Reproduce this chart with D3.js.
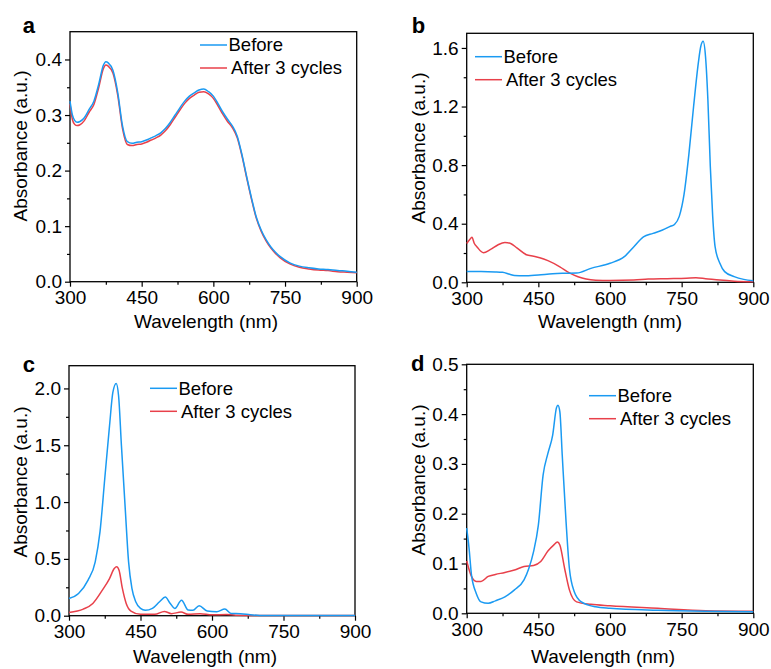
<!DOCTYPE html>
<html>
<head>
<meta charset="utf-8">
<script src="https://cdn.jsdelivr.net/npm/d3@7"></script>
<style>
  body { margin: 0; background: #fff; }
  svg { font-family: Arial, "Liberation Sans", sans-serif; }
</style>
</head>
<body>
<script>
// ---- data ----
const aWl = [300,305,310,315,320,330,340,350,360,370,375,380,390,400,410,420,430,440,450,460,470,480,490,500,510,520,530,540,550,560,570,580,590,600,610,620,630,640,650,660,670,680,690,700,710,720,730,740,760,780,800,820,840,860,880,900];
const aBefore = [0.325,0.300,0.290,0.287,0.288,0.295,0.310,0.325,0.355,0.390,0.396,0.394,0.380,0.340,0.280,0.252,0.249,0.251,0.252,0.255,0.259,0.263,0.268,0.276,0.287,0.300,0.313,0.325,0.334,0.340,0.345,0.347,0.342,0.334,0.320,0.305,0.292,0.280,0.262,0.228,0.188,0.150,0.116,0.093,0.076,0.063,0.053,0.045,0.034,0.028,0.025,0.023,0.022,0.020,0.019,0.017];
const aAfter = [0.320,0.292,0.283,0.281,0.282,0.290,0.305,0.319,0.349,0.384,0.390,0.388,0.375,0.335,0.275,0.247,0.245,0.247,0.248,0.251,0.255,0.259,0.264,0.272,0.283,0.296,0.309,0.321,0.330,0.336,0.341,0.342,0.338,0.330,0.316,0.301,0.288,0.277,0.259,0.226,0.186,0.148,0.114,0.091,0.074,0.061,0.051,0.043,0.032,0.026,0.023,0.021,0.020,0.018,0.017,0.016];

const bBeforeWl = [300,330,360,375,390,400,420,450,480,500,530,560,600,630,650,670,690,710,725,735,745,755,765,775,785,790,795,800,805,810,815,820,830,840,860,880,900];
const bBefore = [0.073,0.073,0.071,0.068,0.055,0.047,0.044,0.050,0.058,0.061,0.063,0.095,0.130,0.175,0.243,0.310,0.334,0.357,0.380,0.395,0.450,0.600,0.870,1.200,1.500,1.610,1.645,1.540,1.240,0.790,0.450,0.243,0.130,0.073,0.039,0.020,0.011];
const bAfterWl = [300,306,311,316,322,335,350,365,380,392,405,425,440,453,470,495,515,533,550,570,600,650,680,720,760,780,800,830,860,900];
const bAfter = [0.265,0.290,0.307,0.265,0.240,0.202,0.225,0.255,0.272,0.265,0.235,0.188,0.178,0.168,0.148,0.106,0.064,0.038,0.022,0.014,0.012,0.015,0.022,0.025,0.028,0.031,0.025,0.015,0.008,0.003];

const cBeforeWl = [300,320,340,355,365,375,385,392,399,404,410,418,425,432,440,450,460,475,490,502,512,522,536,550,560,573,590,610,627,640,660,680,700,800,900];
const cBefore = [0.152,0.196,0.313,0.474,0.737,1.205,1.670,1.965,2.044,1.936,1.497,0.940,0.474,0.240,0.123,0.064,0.047,0.064,0.123,0.164,0.110,0.064,0.137,0.050,0.047,0.088,0.041,0.035,0.058,0.020,0.018,0.009,0.002,0.001,0.001];
const cAfterWl = [300,330,350,370,385,395,400,405,412,420,430,450,480,500,515,535,550,575,600,630,650,700,900];
const cAfter = [0.029,0.058,0.108,0.225,0.327,0.415,0.430,0.400,0.240,0.108,0.041,0.012,0.012,0.038,0.018,0.032,0.012,0.018,0.008,0.010,0.005,0.002,0.001];

const dBeforeWl = [300,305,310,320,330,345,360,380,400,420,430,440,450,460,470,480,488,491,495,500,508,515,525,540,570,600,700,800,900];
const dBefore = [0.171,0.130,0.077,0.040,0.023,0.020,0.025,0.033,0.047,0.067,0.090,0.124,0.177,0.278,0.321,0.358,0.413,0.418,0.405,0.318,0.184,0.090,0.044,0.023,0.013,0.010,0.006,0.004,0.003];
const dAfterWl = [300,310,320,330,345,360,380,400,420,440,455,470,482,490,495,505,515,530,560,600,700,800,900];
const dAfter = [0.105,0.074,0.064,0.064,0.074,0.078,0.082,0.087,0.094,0.096,0.104,0.125,0.137,0.143,0.137,0.090,0.047,0.023,0.018,0.015,0.010,0.005,0.004];

const xTicks = [300, 450, 600, 750, 900];
const seriesNames = ['Before', 'After 3 cycles'];
const colors = ['#1a9af2', '#e8404a'];

const panels = [
  { tag: 'a', left: 70, right: 356.7, top: 31.7, bottom: 281.7, yMax: 0.45, yTicks: [0, 0.1, 0.2, 0.3, 0.4], yMinor: 0.05, fmt: '.1f',
    before: [aWl, aBefore], after: [aWl, aAfter],
    tagX: 22.7, tagY: 33, ylabX: 20, ylabY: 146, xlabX: 206, xlabY: 328,
    legX: 200, legY: 45 },
  { tag: 'b', left: 466.7, right: 753.3, top: 33.3, bottom: 282.3, yMax: 1.7, yTicks: [0, 0.4, 0.8, 1.2, 1.6], yMinor: 0.2, fmt: '.1f',
    before: [bBeforeWl, bBefore], after: [bAfterWl, bAfter],
    tagX: 411.7, tagY: 33, ylabX: 418.3, ylabY: 148, xlabX: 610, xlabY: 328,
    legX: 475, legY: 56.7 },
  { tag: 'c', left: 69, right: 355, top: 365.7, bottom: 615.7, yMax: 2.2, yTicks: [0, 0.5, 1.0, 1.5, 2.0], yMinor: 0.25, fmt: '.1f',
    before: [cBeforeWl, cBefore], after: [cAfterWl, cAfter],
    tagX: 22.7, tagY: 371.7, ylabX: 20, ylabY: 482, xlabX: 205, xlabY: 663,
    legX: 150, legY: 388.3 },
  { tag: 'd', left: 466.7, right: 753.3, top: 364.3, bottom: 613.3, yMax: 0.5, yTicks: [0, 0.1, 0.2, 0.3, 0.4, 0.5], yMinor: 0.05, fmt: '.1f',
    before: [dBeforeWl, dBefore], after: [dAfterWl, dAfter],
    tagX: 411, tagY: 371, ylabX: 418.3, ylabY: 480, xlabX: 603, xlabY: 663,
    legX: 589, legY: 395.7 }
];

const svg = d3.select('body').append('svg')
  .attr('width', 771)
  .attr('height', 669);

panels.forEach(p => {
  const x = d3.scaleLinear().domain([300, 900]).range([p.left, p.right]);
  const y = d3.scaleLinear().domain([0, p.yMax]).range([p.bottom, p.top]);
  const g = svg.append('g');

  // minor ticks
  const xMinor = d3.range(375, 900, 150);
  const yMinor = d3.range(p.yMinor, p.yMax, p.yMinor * 2).filter(v => v < p.yMax - 1e-6);

  g.append('g')
    .attr('transform', `translate(0,${p.bottom})`)
    .call(d3.axisBottom(x).tickValues(xMinor).tickSize(3).tickFormat(''))
    .call(a => a.select('.domain').remove());
  g.append('g')
    .attr('transform', `translate(${p.left},0)`)
    .call(d3.axisLeft(y).tickValues(yMinor).tickSize(3).tickFormat(''))
    .call(a => a.select('.domain').remove());

  // major axes
  const xa = g.append('g')
    .attr('transform', `translate(0,${p.bottom})`)
    .call(d3.axisBottom(x).tickValues(xTicks).tickSize(5).tickPadding(4).tickFormat(d3.format('d')));
  const ya = g.append('g')
    .attr('transform', `translate(${p.left},0)`)
    .call(d3.axisLeft(y).tickValues(p.yTicks).tickSize(5).tickPadding(3).tickFormat(d3.format(p.fmt)));
  [xa, ya].forEach(a => {
    a.select('.domain').remove();
    a.selectAll('text').attr('font-size', 19).attr('fill', '#000').attr('font-family', 'Arial, "Liberation Sans", sans-serif');
  });
  g.selectAll('.tick line').attr('stroke', '#000').attr('stroke-width', 1.2);

  // frame
  g.append('rect')
    .attr('x', p.left).attr('y', p.top)
    .attr('width', p.right - p.left).attr('height', p.bottom - p.top)
    .attr('fill', 'none').attr('stroke', '#000').attr('stroke-width', 1.3);

  // curves
  const line = d3.line()
    .x(d => x(d[0]))
    .y(d => y(d[1]))
    .curve(d3.curveMonotoneX);
  [p.after, p.before].forEach((s, i) => {
    const pts = s[0].map((w, k) => [w, s[1][k]]);
    g.append('path')
      .datum(pts)
      .attr('d', line)
      .attr('fill', 'none')
      .attr('stroke', colors[1 - i])
      .attr('stroke-width', 1.5);
  });

  // legend
  seriesNames.forEach((name, i) => {
    const ly = p.legY + i * 23;
    g.append('line')
      .attr('x1', p.legX).attr('x2', p.legX + 27)
      .attr('y1', ly).attr('y2', ly)
      .attr('stroke', colors[i]).attr('stroke-width', 1.5);
    g.append('text')
      .attr('x', p.legX + 28.5 + i * 2.5)
      .attr('y', ly)
      .attr('dy', '0.35em')
      .attr('font-size', 18.5)
      .text(name);
  });

  // panel tag
  g.append('text')
    .attr('x', p.tagX).attr('y', p.tagY)
    .attr('font-size', 22).attr('font-weight', 'bold')
    .text(p.tag);

  // axis titles
  g.append('text')
    .attr('x', p.xlabX).attr('y', p.xlabY)
    .attr('text-anchor', 'middle')
    .attr('font-size', 19)
    .text('Wavelength (nm)');
  g.append('text')
    .attr('transform', `translate(${p.ylabX},${p.ylabY}) rotate(-90)`)
    .attr('text-anchor', 'middle')
    .attr('dy', '0.35em')
    .attr('font-size', 19)
    .text('Absorbance (a.u.)');
});
</script>
</body>
</html>
